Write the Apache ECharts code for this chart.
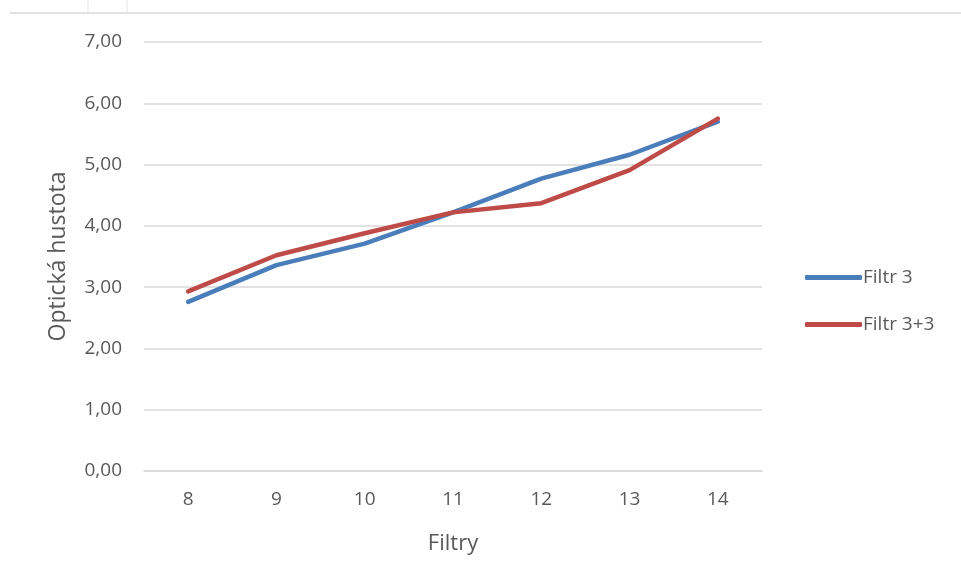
<!DOCTYPE html>
<html>
<head>
<meta charset="utf-8">
<script src="https://cdn.jsdelivr.net/npm/echarts@6/dist/echarts.min.js"></script>
<style>
  html, body { margin: 0; padding: 0; background: #fff; }
  #chart { width: 961px; height: 583px; }
</style>
</head>
<body>
<div id="chart"></div>
<script>
// Filter numbers on the x axis
const categories = ['8', '9', '10', '11', '12', '13', '14'];
// Optical density per filter
const filtr3 = [2.76, 3.36, 3.71, 4.22, 4.77, 5.16, 5.70];
const filtr33 = [2.93, 3.52, 3.88, 4.22, 4.37, 4.91, 5.75];
const seriesNames = ['Filtr 3', 'Filtr 3+3'];

const font = 'Open Sans, Liberation Sans, sans-serif';
const labelColor = '#595959';
const gridColor = '#d9d9d9';

const chart = echarts.init(document.getElementById('chart'), null, { renderer: 'canvas' });

chart.setOption({
  backgroundColor: '#ffffff',
  animation: false,
  grid: { left: 144, right: 199, top: 42, bottom: 112 },
  graphic: [
    { type: 'line', shape: { x1: 10, y1: 13, x2: 961, y2: 13 }, style: { stroke: gridColor, lineWidth: 1.5 } },
    { type: 'line', shape: { x1: 88, y1: 0, x2: 88, y2: 13 }, style: { stroke: '#e6e6e6', lineWidth: 1 } },
    { type: 'line', shape: { x1: 127, y1: 0, x2: 127, y2: 13 }, style: { stroke: '#e6e6e6', lineWidth: 1 } }
  ],
  legend: {
    orient: 'vertical',
    left: 800,
    top: 263,
    itemWidth: 57,
    itemHeight: 5,
    itemGap: 28,
    icon: 'roundRect',
    data: seriesNames,
    textStyle: { color: labelColor, fontSize: 19, fontFamily: font, padding: [0, 0, 0, -4] }
  },
  xAxis: {
    type: 'category',
    data: categories,
    boundaryGap: true,
    name: 'Filtry',
    nameLocation: 'middle',
    nameGap: 62,
    nameTextStyle: { color: labelColor, fontSize: 22, fontFamily: font },
    axisLine: { show: true, lineStyle: { color: gridColor, width: 1.5 } },
    axisTick: { show: false },
    axisLabel: { color: labelColor, fontSize: 19, fontFamily: font, margin: 19 },
    splitLine: { show: false }
  },
  yAxis: {
    type: 'value',
    min: 0,
    max: 7,
    interval: 1,
    name: 'Optická hustota',
    nameLocation: 'middle',
    nameGap: 74,
    nameTextStyle: { color: labelColor, fontSize: 23, fontFamily: font },
    axisLine: { show: false },
    axisTick: { show: false },
    axisLabel: {
      color: labelColor, fontSize: 19, fontFamily: font, margin: 22,
      formatter: v => v.toFixed(2).replace('.', ',')
    },
    splitLine: { lineStyle: { color: gridColor, width: 1.5 } }
  },
  series: [
    {
      name: seriesNames[0],
      type: 'line',
      data: filtr3,
      symbol: 'none',
      smooth: false,
      itemStyle: { color: '#4a7ebb' },
      lineStyle: { color: '#4a7ebb', width: 4.5, cap: 'round', join: 'round' }
    },
    {
      name: seriesNames[1],
      type: 'line',
      data: filtr33,
      symbol: 'none',
      smooth: false,
      itemStyle: { color: '#be4b48' },
      lineStyle: { color: '#be4b48', width: 4.5, cap: 'round', join: 'round' }
    }
  ]
});
</script>
</body>
</html>
